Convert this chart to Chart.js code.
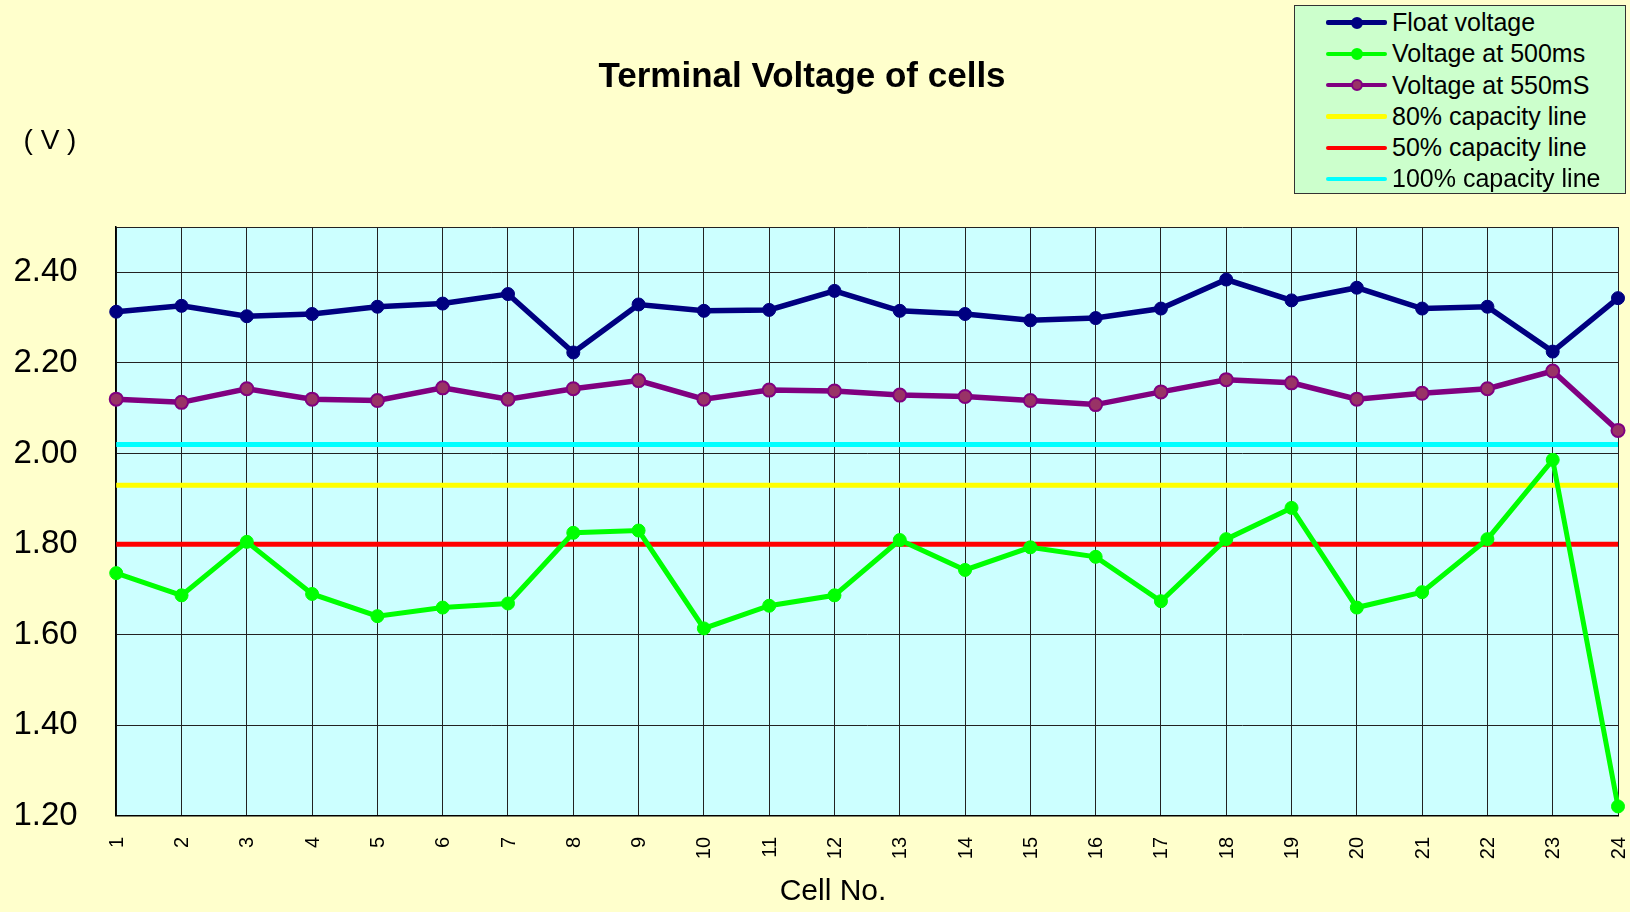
<!DOCTYPE html>
<html>
<head>
<meta charset="utf-8">
<title>Terminal Voltage of cells</title>
<script src="https://cdn.jsdelivr.net/npm/chart.js@4.4.1/dist/chart.umd.min.js"></script>
<style>
  body { margin: 0; background: #FFFFCC; font-family: "Liberation Sans", Arial, sans-serif; }
  #wrap { position: relative; width: 1630px; height: 912px; }
  #legend {
    position: absolute; left: 1294px; top: 5px; width: 332px; height: 189px;
    background: #CCFFCC; border: 1px solid #333; box-sizing: border-box; padding-top: 1px;
  }
  .row { position: relative; height: 31.3px; line-height: 31.3px; font-size: 25px; color: #000; white-space: nowrap; }
  .sym { position: absolute; left: 31px; top: 0; width: 61px; height: 31.3px; }
  .sym .ln { position: absolute; left: 0; right: 0; top: 13.4px; height: 4.5px; border-radius: 2px; }
  .sym .dot { position: absolute; left: 24.5px; top: 9.5px; width: 12px; height: 12px; border-radius: 50%; box-sizing: border-box; border: 2px solid; }
  .row .txt { position: absolute; left: 97px; }
</style>
</head>
<body>
<div id="wrap">
  <canvas id="voltageChart" width="1630" height="912"></canvas>
  <div id="legend"></div>
</div>
<script>
var cells = ["1","2","3","4","5","6","7","8","9","10","11","12","13","14","15","16","17","18","19","20","21","22","23","24"];

var floatVoltage = [2.313, 2.326, 2.303, 2.308, 2.324, 2.331, 2.352, 2.223, 2.329, 2.315, 2.317, 2.359,
                    2.315, 2.308, 2.294, 2.299, 2.320, 2.384, 2.338, 2.366, 2.320, 2.324, 2.225, 2.343];
var voltage500ms = [1.736, 1.687, 1.805, 1.690, 1.641, 1.660, 1.669, 1.825, 1.830, 1.614, 1.664, 1.687,
                    1.809, 1.743, 1.793, 1.772, 1.674, 1.811, 1.880, 1.660, 1.694, 1.811, 1.986, 1.221];
var voltage550ms = [2.120, 2.113, 2.143, 2.120, 2.117, 2.145, 2.120, 2.143, 2.161, 2.120, 2.140, 2.138,
                    2.129, 2.126, 2.117, 2.108, 2.136, 2.163, 2.156, 2.120, 2.133, 2.143, 2.182, 2.051];

// capacity reference levels (V)
var capacity80 = 1.93;
var capacity50 = 1.80;
var capacity100 = 2.02;

var yTicks = [1.2, 1.4, 1.6, 1.8, 2.0, 2.2, 2.4];
var yMin = 1.2;
var yMax = 2.5;

function flat(v){
    return cells.map(function(){ return v; });
}

var ctx = document.getElementById("voltageChart").getContext('2d');

var plotBackground = {
    id: 'plotBackground',
    beforeDraw: function(chart){
        var a = chart.chartArea;
        var c = chart.ctx;
        c.save();
        c.fillStyle = '#CCFFFF';
        c.fillRect(a.left, a.top, a.right - a.left, a.bottom - a.top);
        c.restore();
    },
    afterDraw: function(chart){
        var c = chart.ctx;
        c.save();
        c.fillStyle = '#000';
        c.textAlign = 'center';
        c.textBaseline = 'middle';
        c.font = '28px "Liberation Sans", Arial, sans-serif';
        c.fillText('( V )', 50, 141);
        c.font = '30px "Liberation Sans", Arial, sans-serif';
        c.fillText('Cell No.', 833, 892);
        c.restore();
    }
};

var data = {
    labels: cells,
    datasets: [
        {
            label: "Float voltage",
            data: floatVoltage,
            borderColor: "#000080",
            backgroundColor: "#000080",
            pointBackgroundColor: "#000080",
            pointBorderColor: "#000080",
            borderWidth: 5.5,
            pointRadius: 6.5,
            pointBorderWidth: 1
        },
        {
            label: "Voltage at 500ms",
            data: voltage500ms,
            borderColor: "#00FF00",
            backgroundColor: "#00FF00",
            pointBackgroundColor: "#00FF00",
            pointBorderColor: "#00FF00",
            borderWidth: 5,
            pointRadius: 6.5,
            pointBorderWidth: 1
        },
        {
            label: "Voltage at 550mS",
            data: voltage550ms,
            borderColor: "#800080",
            backgroundColor: "#993366",
            pointBackgroundColor: "#993366",
            pointBorderColor: "#800080",
            borderWidth: 5.5,
            pointRadius: 6.5,
            pointBorderWidth: 2
        },
        {
            label: "80% capacity line",
            data: flat(capacity80),
            borderColor: "#FFFF00",
            backgroundColor: "#FFFF00",
            borderWidth: 5,
            pointRadius: 0
        },
        {
            label: "50% capacity line",
            data: flat(capacity50),
            borderColor: "#FF0000",
            backgroundColor: "#FF0000",
            borderWidth: 5,
            pointRadius: 0
        },
        {
            label: "100% capacity line",
            data: flat(capacity100),
            borderColor: "#00FFFF",
            backgroundColor: "#00FFFF",
            borderWidth: 5,
            pointRadius: 0
        }
    ]
};

var options = {
    responsive: false,
    animation: false,
    layout: { padding: { left: -14, right: 12, top: 0, bottom: 52.8 } },
    plugins: {
        legend: { display: false },
        tooltip: { enabled: false },
        title: {
            display: true,
            text: "Terminal Voltage of cells",
            color: "#000",
            font: { family: '"Liberation Sans", Arial, sans-serif', size: 35, weight: 'bold' },
            padding: { top: 56, bottom: 129 }
        }
    },
    scales: {
        x: {
            type: 'category',
            offset: false,
            grid: { color: '#222', lineWidth: 1, tickLength: 21, tickColor: 'rgba(0,0,0,0)', offset: false },
            border: { color: '#000', width: 1.5 },
            ticks: {
                color: '#000',
                minRotation: 90,
                maxRotation: 90,
                padding: 0,
                labelOffset: 1,
                autoSkip: false,
                font: { family: '"Liberation Sans", Arial, sans-serif', size: 20, lineHeight: 0.5 }
            }
        },
        y: {
            min: yMin,
            max: yMax,
            afterBuildTicks: function(scale){
                scale.ticks = yTicks.concat([yMax]).map(function(v){ return { value: v }; });
            },
            grid: { color: '#222', lineWidth: 1, drawTicks: true, tickLength: 11, tickColor: 'rgba(0,0,0,0)' },
            border: { color: '#000', width: 1.5 },
            ticks: {
                color: '#000',
                padding: 27.5,
                font: { family: '"Liberation Sans", Arial, sans-serif', size: 33 },
                callback: function(v){ return v > 2.45 ? '' : Number(v).toFixed(2); }
            }
        }
    }
};

var voltageChart = new Chart(ctx, {
    type: 'line',
    data: data,
    options: options,
    plugins: [plotBackground]
});

// legend box, built from the datasets
var legendBox = document.getElementById('legend');
data.datasets.forEach(function(ds){
    var row = document.createElement('div');
    row.className = 'row';
    var sym = '<span class="sym"><span class="ln" style="background:' + ds.borderColor + '"></span>';
    if (ds.pointRadius > 0) {
        sym += '<span class="dot" style="background:' + ds.pointBackgroundColor + ';border-color:' + ds.pointBorderColor + '"></span>';
    }
    sym += '</span>';
    row.innerHTML = sym + '<span class="txt">' + ds.label + '</span>';
    legendBox.appendChild(row);
});
</script>
</body>
</html>
